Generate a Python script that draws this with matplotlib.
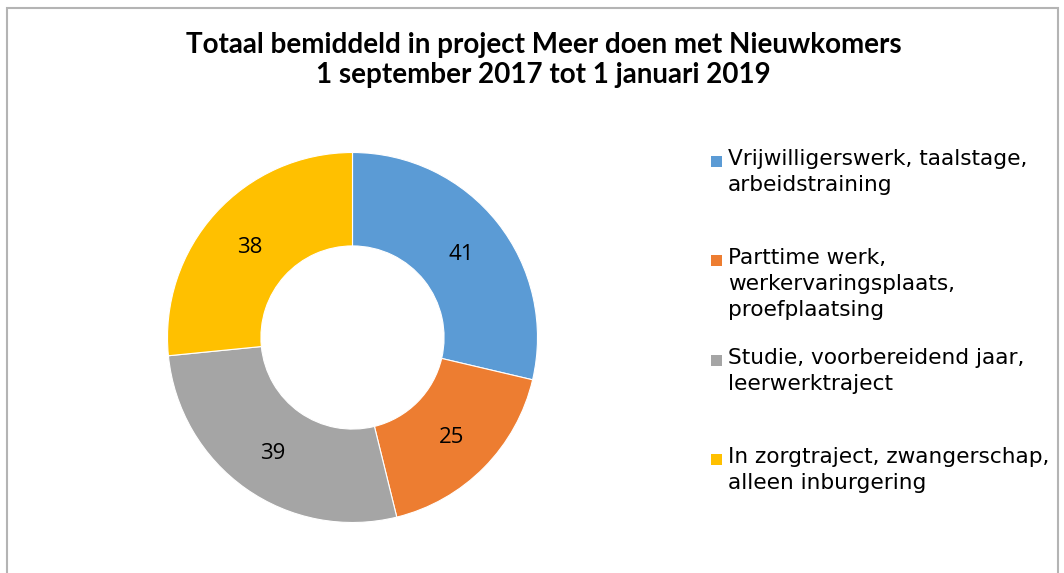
import matplotlib.pyplot as plt
import numpy as np
from matplotlib.patches import Rectangle

# Data
categories = [
    "Vrijwilligerswerk, taalstage,\narbeidstraining",
    "Parttime werk,\nwerkervaringsplaats,\nproefplaatsing",
    "Studie, voorbereidend jaar,\nleerwerktraject",
    "In zorgtraject, zwangerschap,\nalleen inburgering",
]
values = [41, 25, 39, 38]
colors = ["#5B9BD5", "#ED7D31", "#A5A5A5", "#FFC000"]

W, H = 1064, 573
fig = plt.figure(figsize=(W / 100, H / 100), dpi=100)

# outer border of the chart area
fig.patches.append(Rectangle((6.5 / W, -0.05), (1057.5 - 6.5) / W, 1.05 - 7.5 / H,
                             transform=fig.transFigure, fill=False,
                             edgecolor="#B4B4B4", linewidth=1.5))

fig.text(0.511, 1 - 60 / H, "Totaal bemiddeld in project Meer doen met Nieuwkomers\n"
         "1 september 2017 tot 1 januari 2019",
         ha="center", va="center", fontsize=20, fontweight="bold",
         family="Lato", linespacing=1.2)

# donut
cx, cy, r = 352.5, 573 - 337.5, 185
ax = fig.add_axes([(cx - r) / W, (cy - r) / H, 2 * r / W, 2 * r / H])
wedges, _ = ax.pie(values, colors=colors, startangle=90, counterclock=False,
                   radius=1.0, wedgeprops=dict(width=0.505, edgecolor="white",
                                               linewidth=0.8))
total = sum(values)
start = 90.0
for v in values:
    mid = np.deg2rad(start - 360 * v / total / 2)
    ax.text(0.75 * np.cos(mid), 0.75 * np.sin(mid) - 0.015, str(v),
            ha="center", va="center", fontsize=16, family="Open Sans")
    start -= 360 * v / total
ax.set_xlim(-1, 1)
ax.set_ylim(-1, 1)
ax.set_aspect("equal")
ax.axis("off")

# legend, drawn by hand to get Excel-like spacing
y0, step = 161, 99.3
for i, (lab, col) in enumerate(zip(categories, colors)):
    y = y0 + i * step
    fig.patches.append(Rectangle((711 / W, 1 - (y + 6) / H), 11 / W, 11 / H,
                                 transform=fig.transFigure, facecolor=col,
                                 edgecolor="none"))
    fig.text(728 / W, 1 - (y - 12) / H, lab, ha="left", va="top",
             fontsize=15.6, family="DejaVu Sans", linespacing=1.38)

fig.savefig("out.png", dpi=100)
